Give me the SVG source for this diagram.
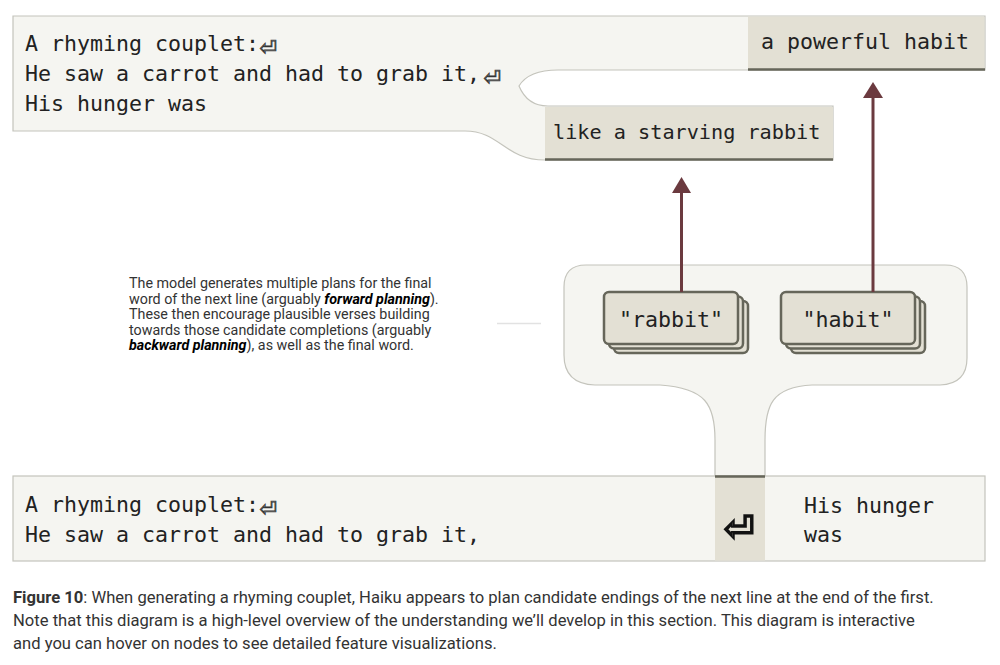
<svg xmlns="http://www.w3.org/2000/svg" width="1000" height="665" viewBox="0 0 1000 665">
<style>
.mono{font-family:"DejaVu Sans Mono","Liberation Mono",monospace;fill:#222}
.sans{font-family:Roboto,"Liberation Sans",sans-serif;fill:#333}
.panel{fill:#f5f5f1;stroke:#c4c4bc;stroke-width:1.2}
.beige{fill:#e3e0d4}
.edge{stroke:#66665a;stroke-width:2.5}
.card{fill:#e3e0d4;stroke:#66665a;stroke-width:2.5}
.arrow{stroke:#6b3a3f;stroke-width:3;fill:none}
.head{fill:#6b3a3f}
.ret{font-family:"DejaVu Sans Mono","DejaVu Sans",monospace;fill:#f5f5f1;stroke:#333;stroke-width:0.8}
</style>
<rect width="1000" height="665" fill="#fff"/>

<g id="top-context">
<path class="panel" d="M13,16 H985 V70 H558 C538,70 525,76 519,86 C524,98 532,106 548,106 H833 V160 H545 C505,160 500,131 465,131 H13 Z"/>
<text class="mono" font-size="21.6" x="25" y="51">A rhyming couplet:</text>
<text class="ret" font-size="28" x="260" y="56">⏎</text>
<text class="mono" font-size="21.6" x="25" y="81">He saw a carrot and had to grab it,</text>
<text class="ret" font-size="28" x="484" y="86">⏎</text>
<text class="mono" font-size="21.6" x="25" y="111">His hunger was</text>
</g>

<g id="out-habit">
<rect class="beige" x="748" y="16.6" width="236.4" height="53.4"/>
<line class="edge" x1="748" y1="69.5" x2="985" y2="69.5"/>
<text class="mono" font-size="21.6" x="761" y="49">a powerful habit</text>
</g>

<g id="out-rabbit">
<rect class="beige" x="545" y="107" width="288" height="53"/>
<line class="edge" x1="545" y1="159.5" x2="833" y2="159.5"/>
<text class="mono" font-size="20.2" x="553" y="139">like a starving rabbit</text>
</g>

<g id="note">
<text class="sans" font-size="14.3">
<tspan x="129" y="288">The model generates multiple plans for the final</tspan>
<tspan x="129" y="303.5">word of the next line (arguably <tspan font-weight="bold" font-style="italic" fill="#000">forward planning</tspan>).</tspan>
<tspan x="129" y="319">These then encourage plausible verses building</tspan>
<tspan x="129" y="334.5">towards those candidate completions (arguably</tspan>
<tspan x="129" y="350"><tspan font-weight="bold" font-style="italic" fill="#000">backward planning</tspan>), as well as the final word.</tspan>
</text>
<line x1="497" y1="323.5" x2="541" y2="323.5" stroke="#e2e2e2" stroke-width="1.5"/>
</g>

<g id="plans">
<path class="panel" d="M586,265 H945 Q967,265 967,287 V358 Q967,384 940,385 H812 C772,387 765,405 765,440 V476 H715 V440 C715,405 706,388 660,385 H595 Q564,384 564,355 V287 Q564,265 586,265 Z"/>
</g>

<g id="plan-rabbit">
<rect class="card" x="614" y="301" width="134" height="52" rx="5"/>
<rect class="card" x="609" y="296.5" width="134" height="52" rx="5"/>
<rect class="card" x="604" y="292" width="134" height="52" rx="5"/>
<text class="mono" font-size="21.6" x="671" y="327" text-anchor="middle">"rabbit"</text>
</g>

<g id="plan-habit">
<rect class="card" x="791" y="301" width="134" height="52" rx="5"/>
<rect class="card" x="786" y="296.5" width="134" height="52" rx="5"/>
<rect class="card" x="781" y="292" width="134" height="52" rx="5"/>
<text class="mono" font-size="21.6" x="848" y="327" text-anchor="middle">"habit"</text>
</g>

<g id="connectors">
<line class="arrow" x1="681.5" y1="292" x2="681.5" y2="190"/>
<path class="head" d="M681.5,177 L691,193 H672 Z"/>
<line class="arrow" x1="873" y1="292" x2="873" y2="95"/>
<path class="head" d="M873,82 L883,98 H863 Z"/>
</g>

<g id="prompt">
<rect class="panel" x="13" y="476" width="972" height="85"/>
<rect class="beige" x="715" y="476.6" width="50" height="84"/>
<line class="edge" x1="715" y1="476.5" x2="765" y2="476.5"/>
<text class="mono" font-size="21.6" x="25" y="512">A rhyming couplet:</text>
<text class="ret" font-size="28" x="260" y="517">⏎</text>
<text class="mono" font-size="21.6" x="25" y="542">He saw a carrot and had to grab it,</text>
<text class="ret" font-size="50" x="739" y="543" text-anchor="middle" style="fill:#e3e0d4;stroke:#111;stroke-width:1.8">⏎</text>
<text class="mono" font-size="21.6" x="804" y="513">His hunger</text>
<text class="mono" font-size="21.6" x="804" y="542">was</text>
</g>

<g id="caption">
<text class="sans" font-size="16.6">
<tspan x="13" y="603"><tspan font-weight="bold">Figure 10</tspan>: When generating a rhyming couplet, Haiku appears to plan candidate endings of the next line at the end of the first.</tspan>
<tspan x="13" y="626">Note that this diagram is a high-level overview of the understanding we’ll develop in this section. This diagram is interactive</tspan>
<tspan x="13" y="649">and you can hover on nodes to see detailed feature visualizations.</tspan>
</text>
</g>
</svg>
